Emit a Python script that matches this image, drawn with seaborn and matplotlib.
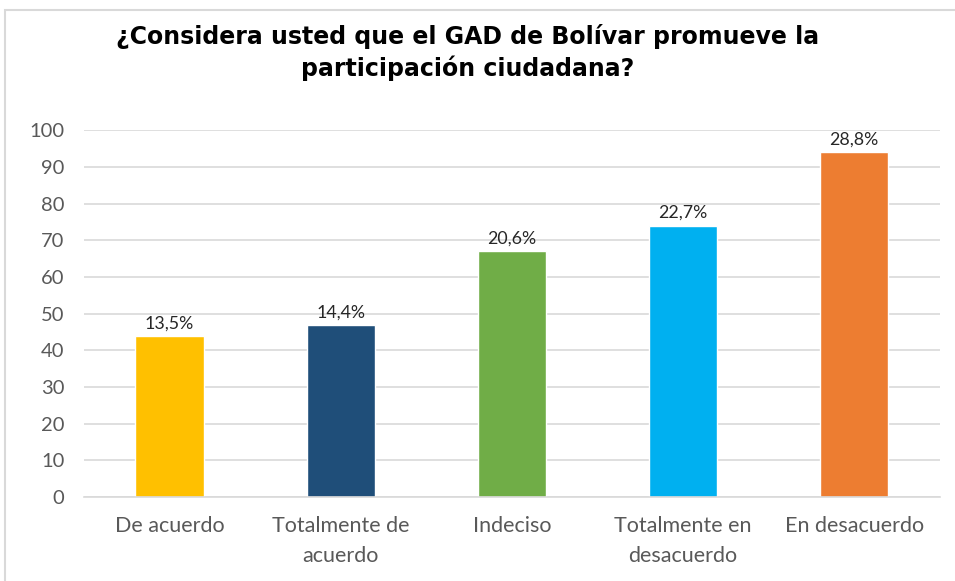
import matplotlib
matplotlib.use('Agg')
from matplotlib import pyplot as plt
from matplotlib.patches import Rectangle

import pandas as pd
import seaborn as sb

categories = ['De acuerdo', 'Totalmente de\nacuerdo', 'Indeciso',
              'Totalmente en\ndesacuerdo', 'En desacuerdo']
counts = [44, 47, 67, 74, 94]
labels = ['13,5%', '14,4%', '20,6%', '22,7%', '28,8%']
colors = ['#FFC000', '#1F4E79', '#70AD47', '#00B0F0', '#ED7D31']

df = pd.DataFrame({'categoria': categories, 'n': counts})

sb.set_style('white')
plt.rcParams['font.family'] = ['Lato', 'DejaVu Sans']

fig = plt.figure(figsize=(9.55, 5.81), dpi=100)
ax = fig.add_axes([0.088, 0.1446, 0.896, 0.6314])

sb.barplot(data=df, x='categoria', y='n', hue='categoria', palette=colors,
           legend=False, width=0.40, saturation=1, ax=ax)

for i, (v, lab) in enumerate(zip(counts, labels)):
    ax.text(i, v + 1.2, lab, ha='center', va='bottom', fontsize=12.8, color='#262626')

ax.set_ylim(0, 100)
ax.set_xlim(-0.5, 4.5)
ax.set_yticks(range(0, 101, 10))
ax.yaxis.grid(True, color='#D9D9D9', linewidth=1.2)
ax.set_axisbelow(True)
for s in ['top', 'right', 'left']:
    ax.spines[s].set_visible(False)
ax.spines['bottom'].set_color('#D9D9D9')
ax.spines['bottom'].set_linewidth(1.2)
ax.tick_params(axis='y', labelsize=14.5, colors='#595959', length=0, pad=14)
ax.tick_params(axis='x', labelsize=15.5, colors='#595959', length=0, pad=14)
for t in ax.get_xticklabels():
    t.set_linespacing(1.6)
ax.set_xlabel('')
ax.set_ylabel('')

fig.text(0.49, 0.91, '¿Considera usted que el GAD de Bolívar promueve la\nparticipación ciudadana?',
         ha='center', va='center', fontsize=17, fontweight='bold', color='black',
         family='DejaVu Sans', linespacing=1.3)

fig.patches.append(Rectangle((5 / 955, -0.01), 1.0, 1 - 10 / 581 + 0.01,
                             transform=fig.transFigure, fill=False,
                             edgecolor='#D9D9D9', linewidth=1.5))

plt.savefig('out.png', dpi=100)
